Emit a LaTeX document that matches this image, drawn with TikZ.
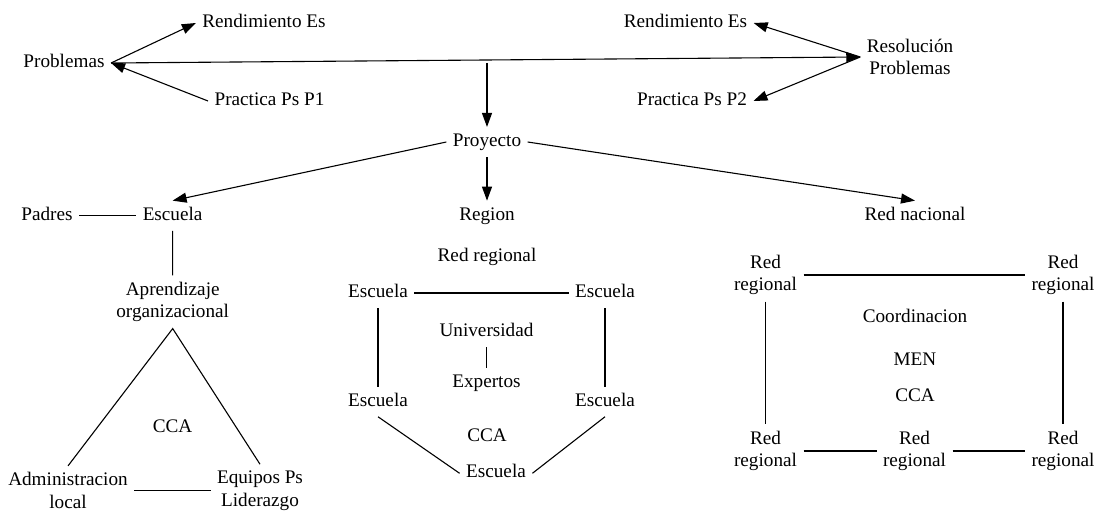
\documentclass[tikz,border=0pt]{standalone}
\usepackage{fontspec}
\setmainfont{Liberation Serif}
\usetikzlibrary{arrows.meta}

\begin{document}
\begin{tikzpicture}[x=1pt,y=-1pt,
				font=\fontsize{19.2}{22.6}\selectfont,
				line width=1.1pt,
				>={Triangle[length=14pt,width=10pt]},
				every node/.style={inner sep=6pt},
				one/.style={text height=13pt,text depth=4pt},
				two/.style={align=center}]
				\useasboundingbox (0,0) rectangle (1094,511);
				\node[one] (problemas) at (64,63) {Problemas};
				\node[one] (rendL) at (264,23) {Rendimiento Es};
				\node[one] (practP1) at (269.5,101) {Practica Ps P1};
				\node[one] (rendR) at (685.5,23) {Rendimiento Es};
				\node[one] (practP2) at (692,101) {Practica Ps P2};
				\node[two] (resol) at (910,57) {Resolución\\Problemas};
				\node[one] (proyecto) at (487,142) {Proyecto};
				\draw[->] (problemas.east) -- (rendL.west);
				\draw[->] (practP1.west) -- (problemas.east);
				\draw[->] (problemas.east) -- (resol.west);
				\draw[->] (resol.west) -- (rendR.east);
				\draw[->] (resol.west) -- (practP2.east);
				\coordinate (split) at (proyecto.north |- problemas.east);
				\draw[->] (split) -- (proyecto.north);
				\node[one] (padres) at (47,215.7) {Padres};
				\node[one] (escuelaP) at (172.6,215.7) {Escuela};
				\node[two] (aprendizaje) at (172.7,302) {Aprendizaje\\organizacional};
				\node[one] (ccaT) at (172.6,428) {CCA};
				\node[two] (admin) at (68,490.5) {Administracion\\local};
				\node[two] (equipos) at (260,490.5) {Equipos Ps\\Liderazgo};
				\draw[->] (proyecto.west) -- (escuelaP.north);
				\draw (padres) -- (escuelaP);
				\draw (escuelaP) -- (aprendizaje);
				\draw (admin.north) -- (aprendizaje.south) -- (equipos.north);
				\draw (admin) -- (equipos);
				\node[one] (region) at (487,215.7) {Region};
				\node[one] (redReg) at (487,256.7) {Red regional};
				\node[one] (escA) at (378,293) {Escuela};
				\node[one] (escB) at (605,293) {Escuela};
				\node[one] (univ) at (486.5,332) {Universidad};
				\node[one] (expertos) at (486.5,383) {Expertos};
				\node[one] (escC) at (378,401.7) {Escuela};
				\node[one] (escE) at (605,401.7) {Escuela};
				\node[one] (ccaM) at (487,436.7) {CCA};
				\node[one] (escD) at (496,473.3) {Escuela};
				\draw[->] (proyecto) -- (region);
				\draw (escA) -- (escB);
				\draw (escA) -- (escC);
				\draw (escB) -- (escE);
				\draw (univ) -- (expertos);
				\draw (escC.south) -- (escD.west);
				\draw (escE.south) -- (escD.east);
				\node[one] (redNac) at (915,215.7) {Red nacional};
				\node[two] (rrA) at (765.5,275) {Red\\regional};
				\node[two] (rrB) at (1063,275) {Red\\regional};
				\node[one] (coord) at (915,318) {Coordinacion};
				\node[one] (men) at (915,360.7) {MEN};
				\node[one] (ccaR) at (915,397) {CCA};
				\node[two] (rrC) at (765.5,451) {Red\\regional};
				\node[two] (rrD) at (914.5,451) {Red\\regional};
				\node[two] (rrE) at (1063,451) {Red\\regional};
				\draw[->] (proyecto.east) -- (redNac.north);
				\draw (rrA) -- (rrB);
				\draw (rrA) -- (rrC);
				\draw (rrB) -- (rrE);
				\draw (rrC) -- (rrD);
				\draw (rrD) -- (rrE);
\end{tikzpicture}
\end{document}
